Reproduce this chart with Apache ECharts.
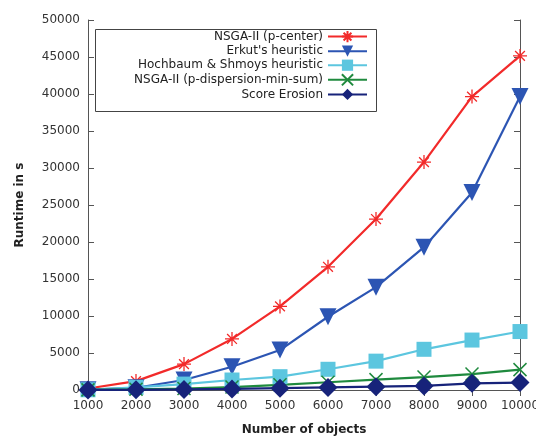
<!DOCTYPE html>
<html>
<head>
<meta charset="utf-8">
<script src="https://cdn.jsdelivr.net/npm/echarts@6/dist/echarts.min.js"></script>
<style>
  html, body { margin: 0; padding: 0; background: #fff; }
  #chart { width: 536px; height: 438px; }
</style>
</head>
<body>
<div id="chart"></div>
<script>
// Problem sizes (number of objects)
const objects = [1000, 2000, 3000, 4000, 5000, 6000, 7000, 8000, 9000, 10000];

// Runtime in seconds per method
const nsgaCenter   = [200, 1200, 3500, 6900, 11300, 16650, 23100, 30800, 39650, 45150];
const erkut        = [50, 300, 1350, 3150, 5400, 9900, 13900, 19300, 26700, 39650];
const hochbaum     = [30, 350, 800, 1350, 1800, 2800, 3900, 5500, 6750, 7900];
const nsgaDisp     = [20, 100, 200, 400, 700, 1050, 1400, 1750, 2150, 2750];
const scoreErosion = [10, 30, 80, 150, 250, 350, 450, 550, 900, 1000];

const seriesNames = [
  'NSGA-II (p-center)',
  "Erkut's heuristic",
  'Hochbaum & Shmoys heuristic',
  'NSGA-II (p-dispersion-min-sum)',
  'Score Erosion'
];

const pair = vals => objects.map((x, i) => [x, vals[i]]);

const ASTERISK = 'path://M0,5L10,5M5,0L5,10M1.5,1.5L8.5,8.5M8.5,1.5L1.5,8.5';
const CROSS = 'path://M0,0L10,10M10,0L0,10';

const FONT = 'DejaVu Sans';
const AXIS_COLOR = '#555';
const plain = v => String(v);

function lineSeries(name, vals, color, symbol, size, opts) {
  return Object.assign({
    name: name,
    type: 'line',
    data: pair(vals),
    symbol: symbol,
    symbolSize: size,
    lineStyle: { color: color, width: 2.2 },
    itemStyle: { color: color, borderColor: color, borderWidth: 0 },
    emphasis: { disabled: true },
    animation: false,
    z: 3
  }, opts || {});
}

const chart = echarts.init(document.getElementById('chart'), null, { renderer: 'canvas' });

const axisLine = { show: true, lineStyle: { color: AXIS_COLOR, width: 1 } };
const axisTick = { show: true, inside: true, length: 6, lineStyle: { color: AXIS_COLOR } };
const labelStyle = { show: true, fontFamily: FONT, fontSize: 12, color: '#333', formatter: plain };
const nameStyle = { fontFamily: FONT, fontSize: 12, fontWeight: 'bold', color: '#222' };

chart.setOption({
  animation: false,
  backgroundColor: '#fff',
  grid: { left: 88, right: 16, top: 20, bottom: 48, containLabel: false, outerBoundsMode: 'none' },
  xAxis: [
    {
      type: 'value', min: 1000, max: 10000, interval: 1000,
      name: 'Number of objects', nameLocation: 'middle', nameGap: 34,
      nameTextStyle: nameStyle,
      axisLabel: Object.assign({ margin: 10, hideOverlap: false }, labelStyle),
      axisLine: axisLine, axisTick: axisTick, splitLine: { show: false }
    },
    {
      type: 'value', min: 1000, max: 10000, interval: 1000, position: 'top',
      axisLine: axisLine, axisTick: axisTick, axisLabel: { show: false }, splitLine: { show: false }
    }
  ],
  yAxis: [
    {
      type: 'value', min: 0, max: 50000, interval: 5000,
      name: 'Runtime in s', nameLocation: 'middle', nameGap: 62, nameRotate: 90,
      nameTextStyle: nameStyle,
      axisLabel: Object.assign({ margin: 8 }, labelStyle),
      axisLine: axisLine, axisTick: axisTick, splitLine: { show: false }
    },
    {
      type: 'value', min: 0, max: 50000, interval: 5000, position: 'right',
      axisLine: axisLine, axisTick: axisTick, axisLabel: { show: false }, splitLine: { show: false }
    }
  ],
  graphic: [{
    type: 'rect',
    shape: { x: 95.5, y: 29.5, width: 281, height: 82 },
    style: { fill: '#fff', stroke: '#444', lineWidth: 1 },
    z: 10
  }],
  legend: {
    orient: 'vertical',
    align: 'right',
    right: 168,
    top: 30,
    padding: 0,
    itemGap: 2,
    itemWidth: 39,
    itemHeight: 14,
    z: 20,
    textStyle: { fontFamily: FONT, fontSize: 12, color: '#222' },
    data: seriesNames,
    selectedMode: false
  },
  series: [
    lineSeries(seriesNames[0], nsgaCenter, '#f22a2a', ASTERISK, 14,
      { itemStyle: { color: '#f22a2a', borderColor: '#f22a2a', borderWidth: 1.3 } }),
    lineSeries(seriesNames[1], erkut, '#2c55b3', 'triangle', 17, { symbolRotate: 180 }),
    lineSeries(seriesNames[2], hochbaum, '#5cc6df', 'rect', 15),
    lineSeries(seriesNames[3], nsgaDisp, '#1f8a3e', CROSS, 13,
      { itemStyle: { color: '#1f8a3e', borderColor: '#1f8a3e', borderWidth: 1.5 } }),
    lineSeries(seriesNames[4], scoreErosion, '#17237a', 'diamond', 19)
  ]
});
</script>
</body>
</html>
